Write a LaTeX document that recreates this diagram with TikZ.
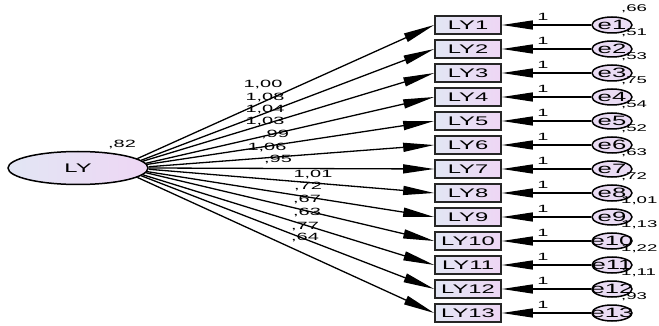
\documentclass[tikz,border=0pt]{standalone}
\usepackage{fontspec}
\setmainfont{Liberation Sans}[FakeStretch=1.9]
\usetikzlibrary{arrows.meta,shapes.geometric}
\definecolor{fillL}{RGB}{226,230,244}
\definecolor{fillR}{RGB}{238,214,244}
\definecolor{fillE}{RGB}{234,220,244}
\begin{document}
\begin{tikzpicture}[x=1pt,y=-1pt,
  obs/.style={draw=black!85, line width=1.7pt, left color=fillL, right color=fillR,
    minimum width=66pt, minimum height=18pt, inner sep=0pt,
    font=\fontsize{12.5}{12.5}\selectfont},
  err/.style={ellipse, draw=black, line width=1.5pt, fill=fillE,
    minimum width=40pt, minimum height=16pt, inner sep=0pt,
    font=\fontsize{13.5}{13.5}\selectfont},
  lat/.style={ellipse, draw=black, line width=1.5pt, left color=fillL, right color=fillR,
    minimum width=140pt, minimum height=33pt, inner sep=0pt,
    font=\fontsize{12.5}{12.5}\selectfont},
  arr/.style={-{Triangle[length=31pt,width=9pt]}, line width=1.3pt},
  lbl/.style={font=\fontsize{10.5}{10.5}\selectfont, inner sep=0pt},
  vlbl/.style={font=\fontsize{9.8}{9.8}\selectfont, inner sep=0pt, anchor=west}]
\path[use as bounding box] (0,0) rectangle (659,326);
\node[lat] (LY) at (78,168) {LY};
\node[lbl] (var) at (122,145) {,82};
\foreach \i/\v in {1/{,66},2/{,51},3/{,53},4/{,75},5/{,54},6/{,52},7/{,63},8/{,72},9/{1,01},10/{1,13},11/{1,22},12/{1,11},13/{,93}}{
  \pgfmathsetmacro{\yy}{25+24*(\i-1)}
  \pgfmathsetmacro{\aa}{9-1.5*(\i-1)}
  \node[obs] (LY\i) at (468,\yy) {LY\i};
  \node[err] (e\i) at (612,\yy) {\makebox[20pt]{e\i}};
  \draw[arr] (e\i) -- (LY\i);
  \draw[arr] (LY.\aa) -- (LY\i.west);
  \node[lbl] (one\i) at (543,\yy-8) {1};
  \node[vlbl] (v\i) at (621,\yy-16) {\v};
}
\node[lbl] (p1) at (263,85) {1,00};
\node[lbl] (p2) at (265,98) {1,08};
\node[lbl] (p3) at (265,110) {1,04};
\node[lbl] (p4) at (265,122) {1,03};
\node[lbl] (p5) at (275,135) {,99};
\node[lbl] (p6) at (267,148) {1,06};
\node[lbl] (p7) at (278,160) {,95};
\node[lbl] (p8) at (313,175) {1,01};
\node[lbl] (p9) at (308,187) {,72};
\node[lbl] (p10) at (307,200) {,67};
\node[lbl] (p11) at (307,213) {,63};
\node[lbl] (p12) at (305,227) {,77};
\node[lbl] (p13) at (305,238) {,64};
\end{tikzpicture}
\end{document}
